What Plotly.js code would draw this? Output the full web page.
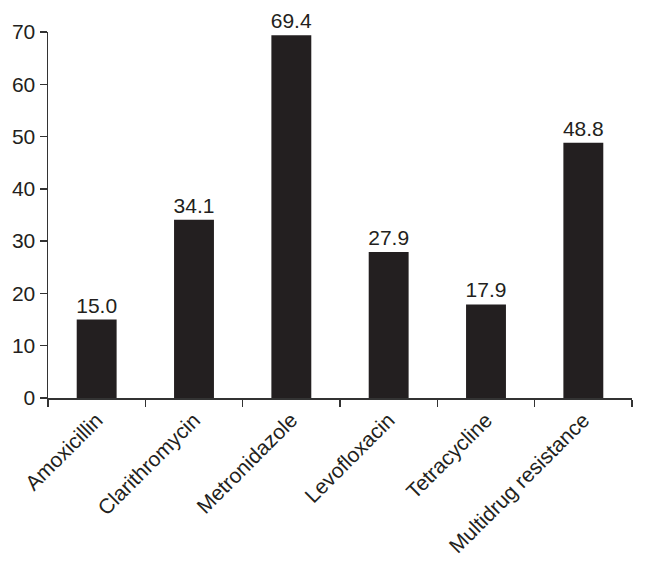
<!DOCTYPE html>
<html>
<head>
<meta charset="utf-8">
<script src="https://cdn.plot.ly/plotly-3.0.1.min.js"></script>
<style>
  html, body { margin: 0; padding: 0; background: #fff; }
  #plot { width: 646px; height: 569px; }
</style>
</head>
<body>
<div id="plot"></div>
<script>
// antibiotic resistance rates (%)
let drugs = ["Amoxicillin", "Clarithromycin", "Metronidazole", "Levofloxacin", "Tetracycline", "Multidrug resistance"];
let rates = [15.0, 34.1, 69.4, 27.9, 17.9, 48.8];
let yTicks = [0, 10, 20, 30, 40, 50, 60, 70];

let ink = "#231f20";

let barTrace = {
    x: drugs,
    y: rates,
    type: "bar",
    marker: { color: ink, line: { width: 0 } },
    text: rates.map(v => v.toFixed(1)),
    textposition: "outside",
    constraintext: "none",
    textfont: { family: "Liberation Sans, Arial, sans-serif", size: 21, color: ink },
    cliponaxis: false,
    hoverinfo: "x+y"
};

let layout = {
    width: 646,
    height: 569,
    margin: { l: 48, r: 14, t: 32, b: 171 },
    paper_bgcolor: "#fff",
    plot_bgcolor: "#fff",
    bargap: 0.59,
    showlegend: false,
    font: { family: "Liberation Sans, Arial, sans-serif", size: 21, color: ink },
    xaxis: {
        showline: true,
        linecolor: "#333",
        linewidth: 1.5,
        ticks: "outside",
        tickson: "boundaries",
        ticklen: 7,
        tickwidth: 1.5,
        tickcolor: "#333",
        tickangle: -45,
        showgrid: false,
        tickfont: { size: 21, color: ink }
    },
    yaxis: {
        range: [0, 70],
        tickvals: yTicks,
        showline: true,
        linecolor: "#333",
        linewidth: 1.5,
        ticks: "outside",
        ticklen: 7,
        tickwidth: 1.5,
        tickcolor: "#333",
        showgrid: false,
        zeroline: false,
        tickfont: { size: 21, color: ink }
    }
};

Plotly.newPlot("plot", [barTrace], layout, { displayModeBar: false, staticPlot: true });
</script>
</body>
</html>
